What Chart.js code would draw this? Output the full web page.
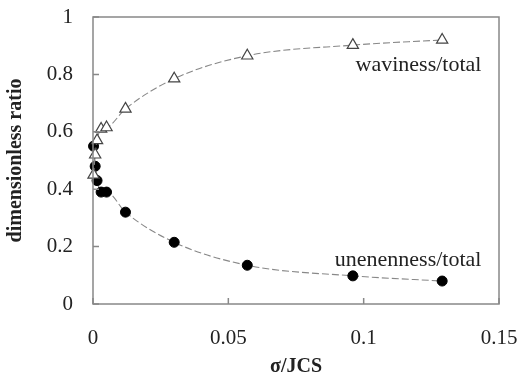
<!DOCTYPE html>
<html>
<head>
<meta charset="utf-8">
<script src="https://cdn.jsdelivr.net/npm/chart.js@4/dist/chart.umd.min.js"></script>
<style>
  html, body { margin: 0; padding: 0; background: #fff; }
  #wrap { width: 520px; height: 380px; }
</style>
</head>
<body>
<div id="wrap"><canvas id="mycanvas" width="520" height="380"></canvas></div>
<script>
// measured points, sigma/JCS against share of total roughness
var sigmaJcs   = [0.0002, 0.0008, 0.0015, 0.003, 0.005, 0.012, 0.030, 0.057, 0.096, 0.129];
var waviness   = [0.45, 0.52, 0.57, 0.61, 0.615, 0.68, 0.785, 0.865, 0.902, 0.92];
var unevenness = [0.55, 0.48, 0.43, 0.39, 0.39, 0.32, 0.215, 0.135, 0.098, 0.080];
var yTicks = [0, 0.2, 0.4, 0.6, 0.8, 1];
var xTicks = [0, 0.05, 0.1, 0.15];
var seriesLabels = ['waviness/total', 'unenenness/total'];

function pts(xs, ys) {
    var out = [];
    for (var i in xs) {
        out.push({x: xs[i], y: ys[i]});
    }
    return out;
}

var serif = '"Liberation Serif", "Times New Roman", serif';

// box round the plot, inward tick marks and the two curve labels
var frame = {
    id: 'frame',
    afterDraw: function(chart) {
        var ctx = chart.ctx;
        var a = chart.chartArea;
        var xs = chart.scales.x, ys = chart.scales.y;
        ctx.save();
        ctx.strokeStyle = '#888';
        ctx.lineWidth = 1.5;
        ctx.strokeRect(a.left, a.top, a.right - a.left, a.bottom - a.top);
        ctx.beginPath();
        xTicks.forEach(function(v) {
            var px = xs.getPixelForValue(v);
            ctx.moveTo(px, a.bottom);
            ctx.lineTo(px, a.bottom - 6);
        });
        yTicks.forEach(function(v) {
            var py = ys.getPixelForValue(v);
            ctx.moveTo(a.left, py);
            ctx.lineTo(a.left + 6, py);
        });
        ctx.stroke();

        ctx.fillStyle = '#222';
        ctx.font = '22px ' + serif;
        ctx.textAlign = 'right';
        ctx.textBaseline = 'middle';
        ctx.fillText(seriesLabels[0], xs.getPixelForValue(0.1435), ys.getPixelForValue(0.833));
        ctx.fillText(seriesLabels[1], xs.getPixelForValue(0.1435), ys.getPixelForValue(0.153));
        ctx.restore();
    }
};

var chartdata = {
    datasets: [
        {
            label: seriesLabels[0],
            data: pts(sigmaJcs, waviness),
            showLine: true,
            borderColor: '#888',
            borderWidth: 1.1,
            borderDash: [7, 3],
            cubicInterpolationMode: 'monotone',
            pointStyle: 'triangle',
            pointRadius: 6.5,
            pointBackgroundColor: '#fff',
            pointBorderColor: '#444',
            pointBorderWidth: 1.2,
            clip: false
        },
        {
            label: seriesLabels[1],
            data: pts(sigmaJcs, unevenness),
            showLine: true,
            borderColor: '#888',
            borderWidth: 1.1,
            borderDash: [7, 3],
            cubicInterpolationMode: 'monotone',
            pointStyle: 'circle',
            pointRadius: 5,
            pointBackgroundColor: '#000',
            pointBorderColor: '#000',
            pointBorderWidth: 1,
            clip: false
        }
    ]
};

var ctx = document.getElementById('mycanvas');

var scatter = new Chart(ctx, {
    type: 'scatter',
    data: chartdata,
    plugins: [frame],
    options: {
        responsive: false,
        animation: false,
        layout: { padding: { top: 17, right: 21, left: 0, bottom: 0 } },
        plugins: {
            legend: { display: false },
            tooltip: { enabled: false }
        },
        scales: {
            x: {
                type: 'linear',
                min: 0,
                max: 0.15,
                // fixed axis band, no extra room for the end labels
                afterFit: function(s) {
                    s.height = 76;
                    s.paddingLeft = 0;
                    s.paddingRight = 0;
                },
                afterBuildTicks: function(s) {
                    s.ticks = xTicks.map(function(v) { return {value: v}; });
                },
                grid: { display: false, drawTicks: false },
                border: { display: false },
                ticks: {
                    padding: 22,
                    color: '#222',
                    font: { family: serif, size: 21 },
                    callback: function(v) { return String(v); }
                },
                title: {
                    display: true,
                    text: 'σ/JCS',
                    color: '#222',
                    font: { family: serif, size: 20, weight: 'bold' },
                    padding: { top: 0, bottom: 1 }
                }
            },
            y: {
                type: 'linear',
                min: 0,
                max: 1,
                afterFit: function(s) {
                    s.width = 93;
                    s.paddingTop = 0;
                    s.paddingBottom = 0;
                },
                afterBuildTicks: function(s) {
                    s.ticks = yTicks.map(function(v) { return {value: v}; });
                },
                grid: { display: false, drawTicks: false },
                border: { display: false },
                ticks: {
                    padding: 20,
                    color: '#222',
                    font: { family: serif, size: 21 },
                    callback: function(v) { return String(v); }
                },
                title: {
                    display: true,
                    text: 'dimensionless ratio',
                    color: '#222',
                    font: { family: serif, size: 20, weight: 'bold' },
                    padding: { top: 4, bottom: 0 }
                }
            }
        }
    }
});
</script>
</body>
</html>
